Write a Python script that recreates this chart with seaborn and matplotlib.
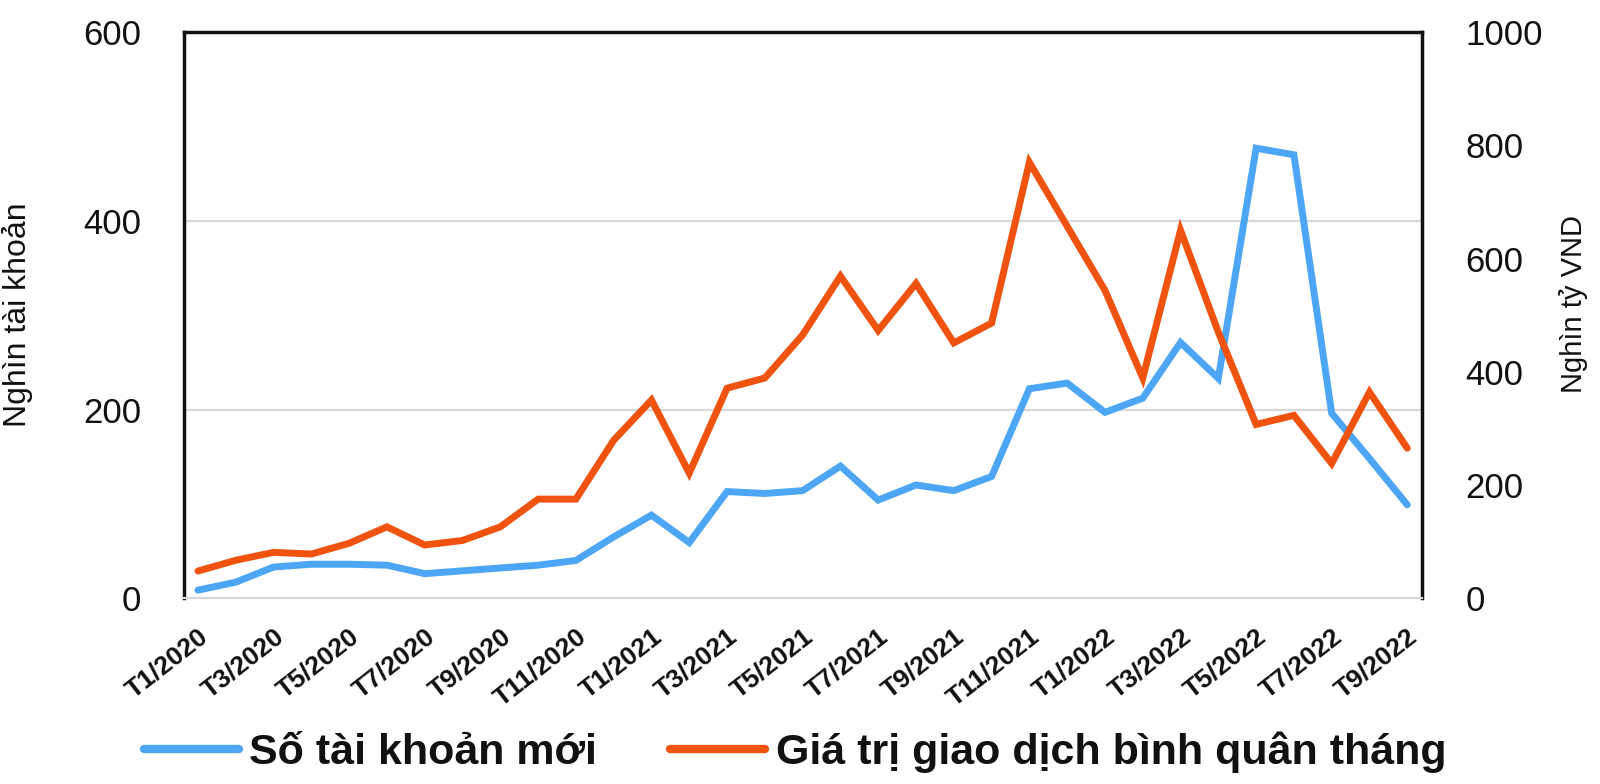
import matplotlib
matplotlib.use("Agg")
import matplotlib.pyplot as plt
import seaborn as sns
import pandas as pd
from matplotlib.lines import Line2D

# ---- data ----
months = ["T1/2020", "T2/2020", "T3/2020", "T4/2020", "T5/2020", "T6/2020",
          "T7/2020", "T8/2020", "T9/2020", "T10/2020", "T11/2020", "T12/2020",
          "T1/2021", "T2/2021", "T3/2021", "T4/2021", "T5/2021", "T6/2021",
          "T7/2021", "T8/2021", "T9/2021", "T10/2021", "T11/2021", "T12/2021",
          "T1/2022", "T2/2022", "T3/2022", "T4/2022", "T5/2022", "T6/2022",
          "T7/2022", "T8/2022", "T9/2022"]
new_accounts = [8.5, 17, 33, 36, 36, 35, 26, 29, 32, 35, 40, 65,
                88, 59, 113, 111, 114, 140, 104, 120, 114, 129, 222, 228,
                197, 212, 271, 233, 477, 470, 196, 148, 99]
trading_value = [48, 67, 81, 78, 97, 126, 94, 102, 126, 175, 175, 279,
                 350, 221, 371, 389, 465, 569, 473, 556, 451, 486, 770, 657,
                 544, 389, 650, 470, 307, 323, 238, 364, 265]
left_ticks = [0, 200, 400, 600]
right_ticks = [0, 200, 400, 600, 800, 1000]
series_names = ["Số tài khoản mới", "Giá trị giao dịch bình quân tháng"]
left_label = "Nghìn tài khoản"
right_label = "Nghìn tỷ VND"

BLUE = "#4DA6F5"
ORANGE = "#F0530F"
GRID = "#D9D9D9"
INK = "#111111"

sns.set_theme(style="white")
FAM = ["Liberation Sans", "DejaVu Sans"]
plt.rcParams["font.family"] = FAM
plt.rcParams["text.color"] = INK

df = pd.DataFrame({"idx": range(len(months)),
                   "acc": new_accounts, "val": trading_value})

fig = plt.figure(figsize=(16, 7.84), dpi=100)
ax = fig.add_axes([0.115, 0.237, 0.774, 0.722])
ax2 = ax.twinx()

sns.lineplot(data=df, x="idx", y="acc", ax=ax, color=BLUE, linewidth=5,
             solid_joinstyle="miter", zorder=3)
sns.lineplot(data=df, x="idx", y="val", ax=ax2, color=ORANGE, linewidth=5,
             solid_joinstyle="miter", zorder=3)

ax.set_xlim(-0.37, len(months) - 1 + 0.4)
ax.set_ylim(0, 600)
ax2.set_ylim(0, 1000)

# grid
for v in left_ticks[1:-1]:
    ax.axhline(v, color=GRID, linewidth=1.6, zorder=1)

# spines
for s in ["left", "top", "right"]:
    ax.spines[s].set_color(INK)
    ax.spines[s].set_linewidth(2.5)
ax.spines["bottom"].set_color(GRID)
ax.spines["bottom"].set_linewidth(1.6)
for s in ax2.spines.values():
    s.set_visible(False)

# ticks
ax.set_yticks(left_ticks)
ax.set_yticklabels([str(t) for t in left_ticks], fontsize=25, color=INK)
ax2.set_yticks(right_ticks)
ax2.set_yticklabels([str(t) for t in right_ticks], fontsize=25, color=INK)
ax.tick_params(axis="y", length=0, pad=31)
ax2.tick_params(axis="y", length=0, pad=31)

xt = list(range(0, len(months), 2))
ax.set_xticks(xt)
ax.set_xticklabels([months[i] for i in xt], rotation=38, ha="right", va="top",
                   rotation_mode="anchor", fontsize=19, fontweight="bold",
                   color=INK)
ax.tick_params(axis="x", length=0, pad=19)

ax.set_xlabel("")
ax.set_ylabel(left_label, fontsize=23, color=INK)
ax.yaxis.set_label_coords(-0.122, 0.5)
ax2.set_ylabel(right_label, fontsize=21, color=INK, rotation=90)
ax2.yaxis.set_label_coords(1.11, 0.52)

handles = [Line2D([0], [0], color=BLUE, linewidth=6),
           Line2D([0], [0], color=ORANGE, linewidth=6)]
fig.legend(handles, series_names, loc="center", bbox_to_anchor=(0.497, 0.04),
           ncol=2, frameon=False, handlelength=2.2, handletextpad=0.25,
           columnspacing=1.7, labelcolor=INK,
           prop={"family": FAM, "weight": "bold", "size": 31})

fig.savefig("out.png", dpi=100)
